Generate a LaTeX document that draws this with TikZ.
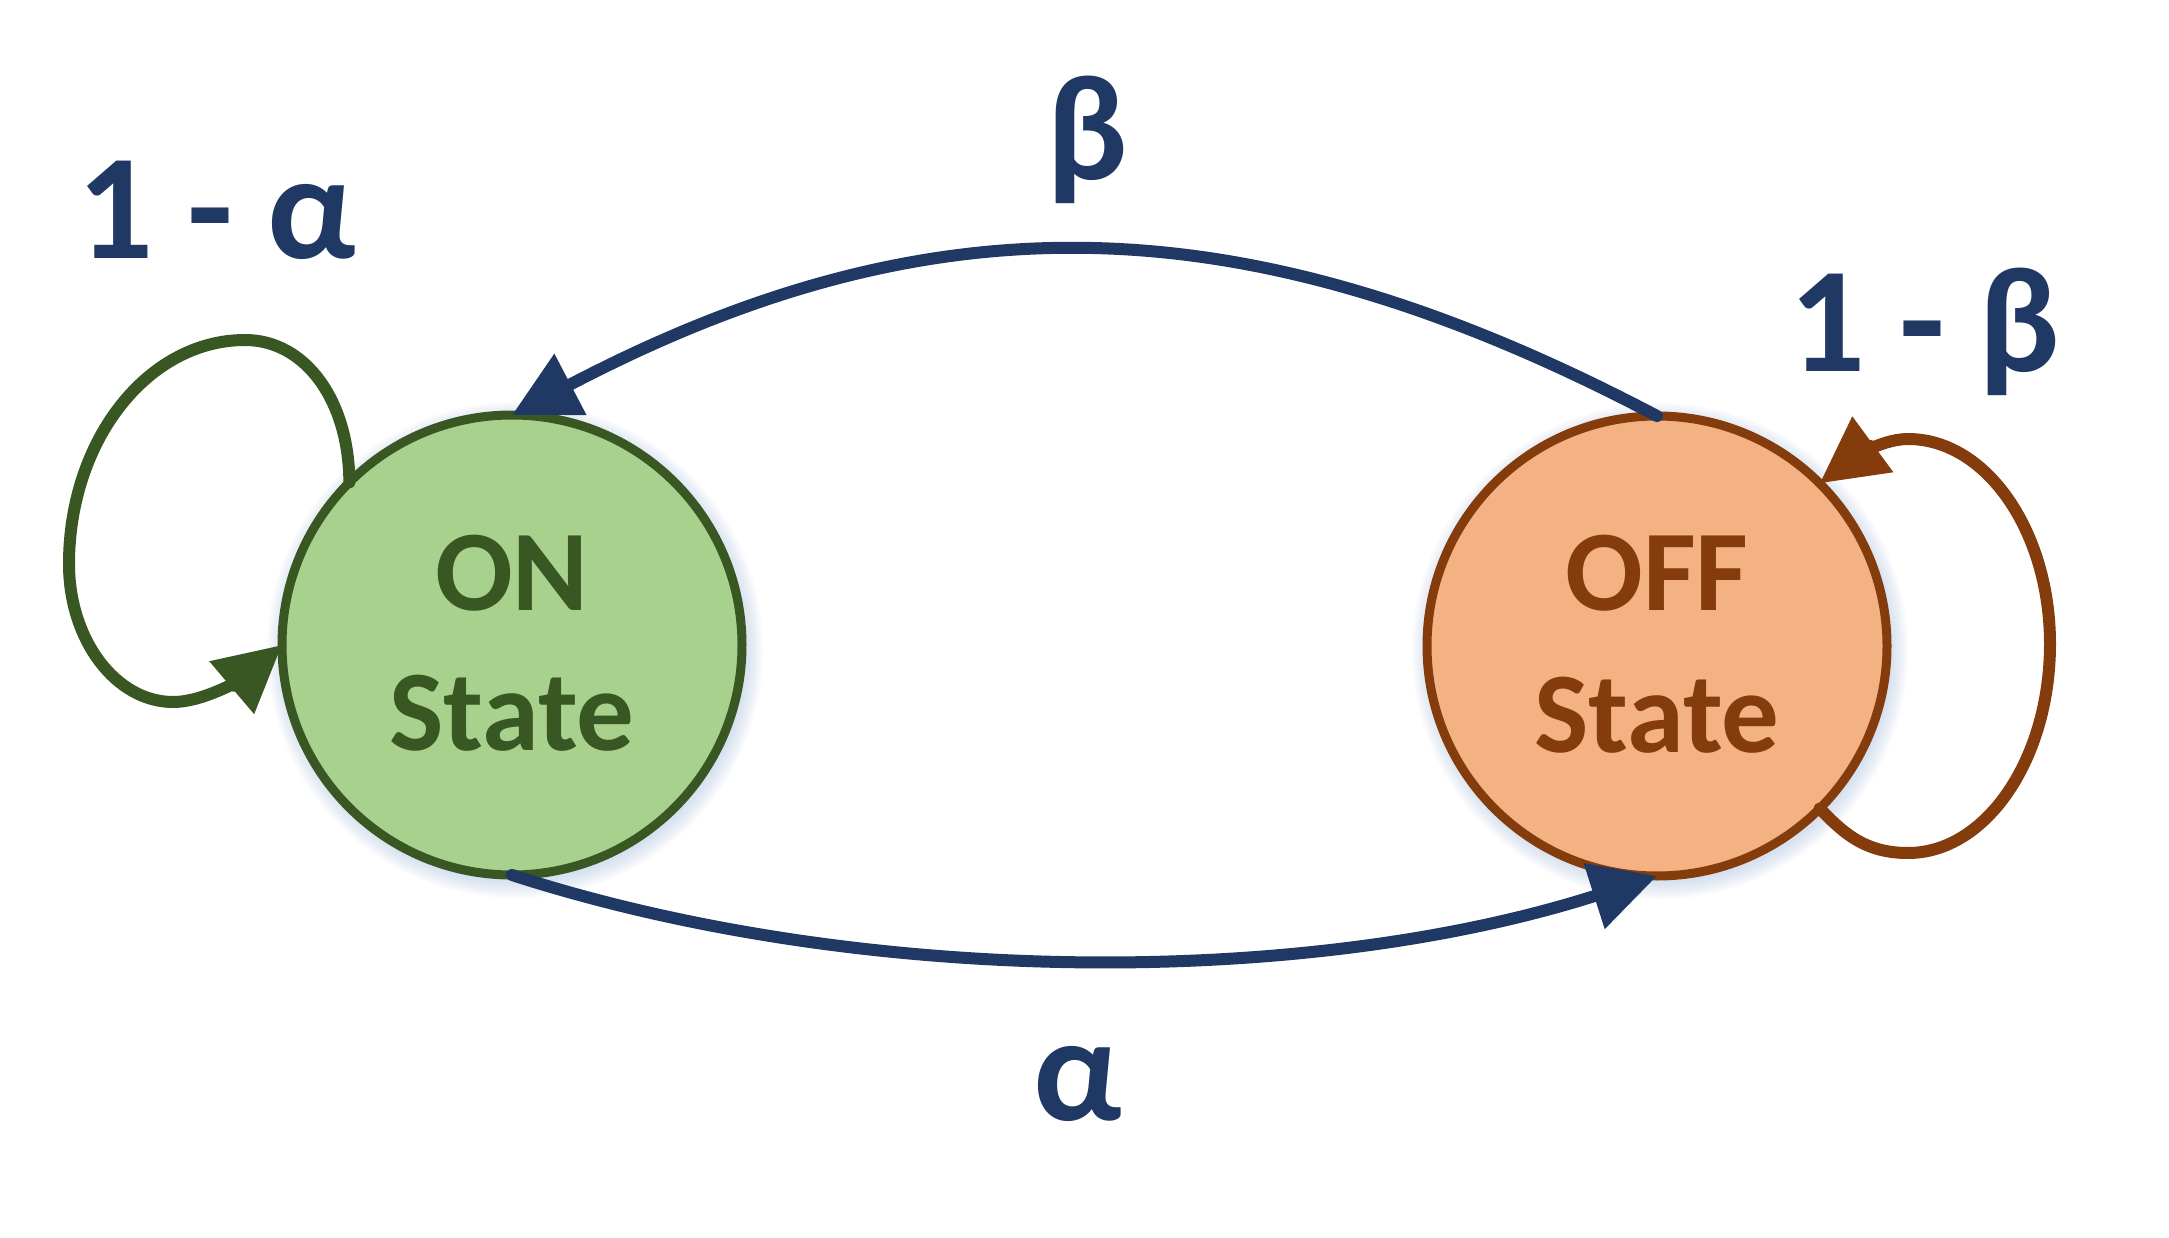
\documentclass[tikz,border=0pt]{standalone}
\usepackage{fontspec}
\setmainfont{Carlito}
\usetikzlibrary{arrows.meta}
\definecolor{navy}{HTML}{203864}
\definecolor{ongreen}{HTML}{A9D18E}
\definecolor{ondark}{HTML}{385723}
\definecolor{offfill}{HTML}{F4B183}
\definecolor{offdark}{HTML}{843C0C}
\definecolor{glow}{HTML}{9DB9E0}
\begin{document}
\begin{tikzpicture}[x=1pt,y=-1pt,
  statecircle/.style={circle, minimum size=460pt, inner sep=0pt, outer sep=0pt, line width=9pt},
  statetext/.style={font=\bfseries\fontsize{115}{140}\selectfont, anchor=base, inner sep=0pt},
  problabel/.style={font=\bfseries\fontsize{150}{180}\selectfont, text=navy, anchor=base, inner sep=0pt},
  bigtip/.style={-{Triangle[length=66pt,width=66pt]}},
  transarc/.style={draw=navy, line width=12pt, line cap=round, bigtip},
  selfloop/.style={line width=12pt, line cap=round, bigtip}
]
\fill[white] (0,0) rectangle (2169,1238);

% soft glow under the circles
\foreach \r in {232,234,...,248} {
  \fill[glow, opacity=0.05] (515,650) circle[radius=\r];
  \fill[glow, opacity=0.05] (1660,651) circle[radius=\r];
}

\node[statecircle, draw=ondark, fill=ongreen] (on) at (512,645) {};
\node[statecircle, draw=offdark, fill=offfill] (off) at (1657,646) {};

\node[statetext, text=ondark] (ont1) at ([yshift=35pt]on.center) {ON};
\node[statetext, text=ondark] (ont2) at ([yshift=-105pt]on.center) {State};
\node[statetext, text=offdark] (offt1) at ([yshift=36pt]off.center) {OFF};
\node[statetext, text=offdark] (offt2) at ([yshift=-106pt]off.center) {State};

\node[problabel] (la) at (217,259) {1 - α};
\node[problabel] (lb) at (1087,180) {β};
\node[problabel] (lc) at (1078,1120) {α};
\node[problabel] (ld) at (1925,372) {1 - β};

% transitions between states
\draw[transarc] (off.north) .. controls (1241,197) and (928,197) .. (on.north);
\draw[transarc] (on.south) .. controls (862,988) and (1307,988) .. (off.south);

% self loops
\draw[selfloop, ondark] (on.135) .. controls (349,400) and (305,340) .. (245,340)
  .. controls (148,340) and (69,440) .. (69,564)
  .. controls (69,640) and (116,702) .. (173,702)
  .. controls (208,702) and (249,673) .. (on.180);
\draw[selfloop, offdark] (off.-45) .. controls (1842,831) and (1863,853) .. (1908,853)
  .. controls (1986,853) and (2050,759) .. (2050,644)
  .. controls (2050,531) and (1986,439) .. (1908,439)
  .. controls (1878,439) and (1846,464) .. (off.45);
\end{tikzpicture}
\end{document}
